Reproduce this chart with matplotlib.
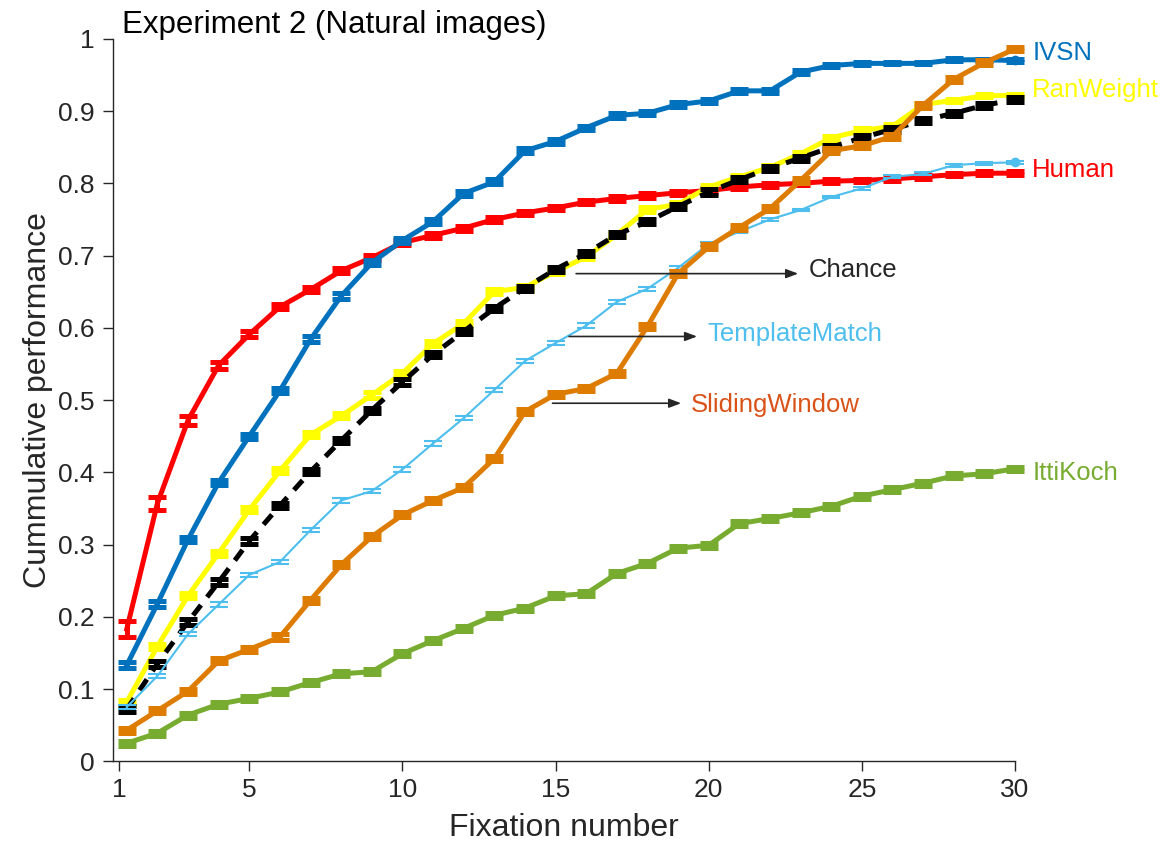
import numpy as np
import matplotlib.pyplot as plt

plt.rcParams['font.family'] = ['Liberation Sans', 'DejaVu Sans']

fixation = np.arange(1, 31)

human = [0.183, 0.357, 0.472, 0.548, 0.591, 0.629, 0.653, 0.679, 0.697, 0.718,
         0.728, 0.738, 0.750, 0.759, 0.766, 0.774, 0.779, 0.783, 0.787, 0.790,
         0.795, 0.798, 0.800, 0.803, 0.804, 0.806, 0.809, 0.812, 0.814, 0.814]
human_err = [0.011, 0.009, 0.0065, 0.0045, 0.004, 0.0035, 0.0035, 0.0035, 0.0035, 0.0035,
             0.0035, 0.0035, 0.0035, 0.003, 0.003, 0.003, 0.003, 0.003, 0.003, 0.003,
             0.003, 0.0025, 0.0025, 0.0025, 0.0025, 0.0025, 0.0025, 0.0025, 0.0025, 0.0025]

ivsn = [0.133, 0.218, 0.307, 0.386, 0.450, 0.513, 0.584, 0.644, 0.690, 0.721,
        0.747, 0.786, 0.802, 0.845, 0.858, 0.877, 0.894, 0.897, 0.909, 0.914,
        0.928, 0.928, 0.954, 0.963, 0.966, 0.966, 0.966, 0.971, 0.971, 0.970]
ivsn_err = [0.0045, 0.0045, 0.004, 0.0035, 0.0035, 0.0035, 0.004, 0.0035, 0.0035, 0.0035,
            0.0035, 0.0035, 0.0035, 0.0035, 0.003, 0.003, 0.003, 0.003, 0.003, 0.003,
            0.003, 0.0025, 0.0025, 0.0025, 0.002, 0.0015, 0.0015, 0.002, 0.0015, 0.0015]

ranweight = [0.082, 0.159, 0.229, 0.288, 0.348, 0.402, 0.452, 0.478, 0.507, 0.537,
             0.578, 0.606, 0.650, 0.656, 0.678, 0.698, 0.729, 0.764, 0.771, 0.795,
             0.809, 0.822, 0.841, 0.863, 0.873, 0.879, 0.909, 0.915, 0.921, 0.922]
ranweight_err = [0.0035, 0.0035, 0.0035, 0.0035, 0.0035, 0.0035, 0.0035, 0.0035, 0.0035, 0.0035,
                 0.0035, 0.0035, 0.0035, 0.0035, 0.003, 0.003, 0.003, 0.0035, 0.003, 0.003,
                 0.003, 0.003, 0.003, 0.003, 0.003, 0.0025, 0.0025, 0.002, 0.002, 0.002]

chance = [0.072, 0.135, 0.193, 0.248, 0.305, 0.354, 0.401, 0.444, 0.486, 0.525,
          0.563, 0.595, 0.627, 0.655, 0.681, 0.703, 0.729, 0.747, 0.768, 0.788,
          0.805, 0.821, 0.835, 0.850, 0.863, 0.875, 0.887, 0.897, 0.908, 0.916]
chance_err = [0.004, 0.004, 0.004, 0.004, 0.004, 0.004, 0.004, 0.004, 0.0035, 0.0035,
              0.0035, 0.0035, 0.0035, 0.0035, 0.0035, 0.0035, 0.0035, 0.0035, 0.0035, 0.0035,
              0.0035, 0.0035, 0.0035, 0.0035, 0.0035, 0.0035, 0.0035, 0.0035, 0.0035, 0.0035]

template = [0.075, 0.118, 0.176, 0.217, 0.258, 0.276, 0.320, 0.361, 0.374, 0.404,
            0.440, 0.475, 0.514, 0.554, 0.579, 0.603, 0.636, 0.654, 0.683, 0.716,
            0.733, 0.750, 0.763, 0.781, 0.793, 0.809, 0.813, 0.825, 0.828, 0.829]
template_err = [0.003, 0.003, 0.003, 0.003, 0.003, 0.003, 0.003, 0.003, 0.003, 0.003,
                0.003, 0.003, 0.003, 0.003, 0.003, 0.003, 0.0025, 0.0025, 0.0025, 0.0025,
                0.002, 0.002, 0.002, 0.002, 0.002, 0.002, 0.002, 0.002, 0.002, 0.002]

sliding = [0.043, 0.070, 0.097, 0.139, 0.155, 0.172, 0.223, 0.272, 0.311, 0.341,
           0.361, 0.379, 0.419, 0.484, 0.508, 0.516, 0.537, 0.602, 0.675, 0.712,
           0.739, 0.765, 0.804, 0.845, 0.852, 0.865, 0.908, 0.944, 0.967, 0.986]
sliding_err = [0.0035, 0.0035, 0.0035, 0.0035, 0.0035, 0.0035, 0.0035, 0.0035, 0.0035, 0.0035,
               0.0035, 0.0035, 0.0035, 0.0035, 0.0035, 0.0035, 0.0035, 0.0035, 0.0035, 0.0035,
               0.0035, 0.0035, 0.0035, 0.0035, 0.0035, 0.0035, 0.0035, 0.0035, 0.0035, 0.003]

ittikoch = [0.025, 0.039, 0.064, 0.079, 0.087, 0.096, 0.109, 0.121, 0.124, 0.149,
            0.167, 0.184, 0.202, 0.212, 0.229, 0.232, 0.260, 0.274, 0.295, 0.299,
            0.329, 0.336, 0.344, 0.353, 0.367, 0.376, 0.385, 0.395, 0.398, 0.405]
ittikoch_err = [0.0035, 0.0035, 0.0035, 0.0035, 0.0035, 0.0035, 0.0035, 0.0035, 0.0035, 0.0035,
                0.0035, 0.0035, 0.0035, 0.0035, 0.0035, 0.0035, 0.0035, 0.0035, 0.0035, 0.0035,
                0.0035, 0.0035, 0.0035, 0.0035, 0.0035, 0.0035, 0.0035, 0.0035, 0.0035, 0.003]

# drawing order matters: later series sit on top
series = [
    ('Human', human, human_err, '#FF0000', 3.6, '-'),
    ('IVSN', ivsn, ivsn_err, '#0072BD', 3.6, '-'),
    ('RanWeight', ranweight, ranweight_err, '#FFFF00', 3.6, '-'),
    ('Chance', chance, chance_err, '#000000', 3.6, (0, (2.6, 2.0))),
    ('TemplateMatch', template, template_err, '#4DBEEE', 1.5, '-'),
    ('SlidingWindow', sliding, sliding_err, '#DD7C00', 3.6, '-'),
    ('IttiKoch', ittikoch, ittikoch_err, '#77AC30', 3.6, '-'),
]

fig = plt.figure(figsize=(11.64, 8.44), dpi=100)
ax = fig.add_axes([0.0968, 0.098, 0.7752, 0.856])

for i, (name, y, err, color, lw, ls) in enumerate(series):
    z = 3 + i
    ax.plot(fixation, y, color=color, lw=lw, ls=ls, zorder=z, clip_on=False)
    ax.errorbar(fixation, y, yerr=err, fmt='none', ecolor=color, elinewidth=lw,
                capsize=6.3, capthick=lw, zorder=z, clip_on=False)

# end dots on IVSN and TemplateMatch
ax.plot(fixation[-1], ivsn[-1], 'o', color='#0072BD', ms=6, zorder=4, clip_on=False)
ax.plot(fixation[-1], template[-1], 'o', color='#4DBEEE', ms=6, zorder=7, clip_on=False)

# labels at the right end
right_labels = [('IVSN', 0.981, '#0072BD'), ('RanWeight', 0.929, '#FFFF00'),
                ('Human', 0.818, '#FF0000'), ('IttiKoch', 0.399, '#77AC30')]
for text, ypos, color in right_labels:
    ax.text(30.56, ypos, text, color=color, fontsize=18.5, va='center', ha='left',
            clip_on=False)

# arrow annotations
arrow_labels = [('Chance', 15.67, 22.92, 0.675, 0.680, '#262626'),
                ('TemplateMatch', 15.44, 19.62, 0.588, 0.592, '#4DBEEE'),
                ('SlidingWindow', 14.9, 19.1, 0.4956, 0.493, '#D95319')]
for text, x0, x1, ya, yt, color in arrow_labels:
    ax.annotate('', xy=(x1, ya), xytext=(x0, ya),
                arrowprops=dict(arrowstyle='-|>,head_length=0.45,head_width=0.17',
                                color='#262626', lw=1.2, shrinkA=0, shrinkB=0,
                                mutation_scale=16), zorder=20)
    ax.text(x1 + 0.33, yt, text, color=color, fontsize=18.5, va='center', ha='left',
            zorder=20)

ax.set_xlim(0.54, 30)
ax.set_ylim(0, 1)
ax.set_xticks([0.756, 5, 10, 15, 20, 25, 30])
ax.set_xticklabels(['1', '5', '10', '15', '20', '25', '30'])
ax.set_yticks(np.arange(0, 1.01, 0.1))
ax.set_yticklabels(['0', '0.1', '0.2', '0.3', '0.4', '0.5', '0.6', '0.7', '0.8', '0.9', '1'])

for side in ['top', 'right']:
    ax.spines[side].set_visible(False)
for side in ['left', 'bottom']:
    ax.spines[side].set_color('#262626')
    ax.spines[side].set_linewidth(1.0)
ax.tick_params(direction='out', length=7, width=1.0, colors='#262626',
               labelsize=19, pad=5)
ax.tick_params(axis='y', pad=6)

fig.text(0.1048, 0.961, 'Experiment 2 (Natural images)', fontsize=22.5,
         ha='left', va='baseline', color='black')
fig.text(0.4845, 0.0095, 'Fixation number', fontsize=23, ha='center',
         va='baseline', color='#262626')
fig.text(0.0327, 0.526, 'Cummulative performance', fontsize=23, ha='center',
         va='center', rotation=90, color='#262626')

plt.savefig('out.png', dpi=100)
